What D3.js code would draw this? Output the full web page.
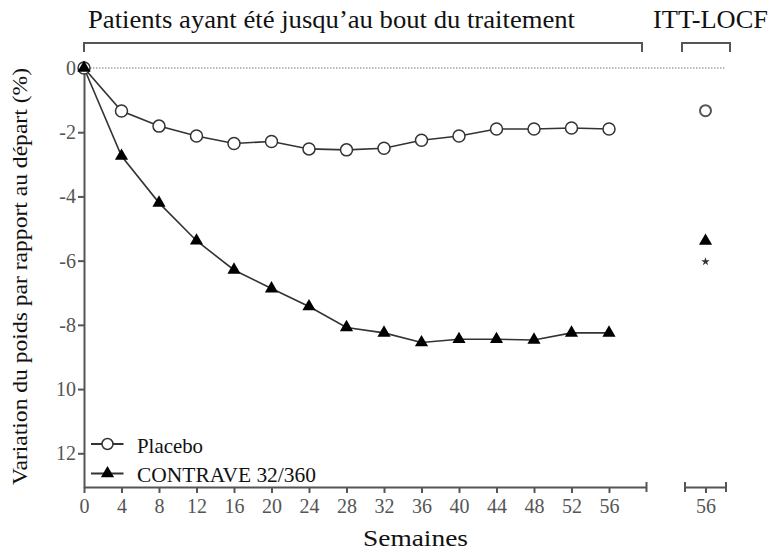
<!DOCTYPE html>
<html>
<head>
<meta charset="utf-8">
<script src="https://cdn.jsdelivr.net/npm/d3@7"></script>
<style>
  body { margin: 0; background: #fff; }
</style>
</head>
<body>
<div class="chart"></div>
<script>
// data
var weeks = [0, 4, 8, 12, 16, 20, 24, 28, 32, 36, 40, 44, 48, 52, 56];
var placebo = [0, -1.34, -1.81, -2.12, -2.35, -2.29, -2.52, -2.55, -2.50, -2.25, -2.12, -1.90, -1.90, -1.87, -1.90];
var contrave = [0, -2.74, -4.20, -5.38, -6.29, -6.87, -7.43, -8.08, -8.25, -8.55, -8.45, -8.45, -8.47, -8.25, -8.25];
var ittPlacebo = -1.33;
var ittContrave = -5.39;
var ittStar = -6.03;
var yTicks = [0, -2, -4, -6, -8, -10, -12];
var yTickLabels = ["0", "-2", "-4", "-6", "-8", "10", "12"];
var xTicks = [0, 4, 8, 12, 16, 20, 24, 28, 32, 36, 40, 44, 48, 52, 56];
var ittWeek = 56;

var svgWidth = 777, svgHeight = 554;
var ink = "#333";
var axisCol = "#555";
var serif = "'Liberation Serif', 'Times New Roman', serif";

var svg = d3.select(".chart").append("svg")
  .attr("width", svgWidth)
  .attr("height", svgHeight);

// scales
var x = d3.scaleLinear().domain([0, 60]).range([84, 646.5]);
var xItt = d3.scaleLinear().domain([54, 58]).range([685, 726]);
var y = d3.scaleLinear().domain([0, -13.05]).range([68, 487]);

// dotted zero line
svg.append("line")
  .attr("x1", x(0)).attr("x2", xItt(58))
  .attr("y1", y(0)).attr("y2", y(0))
  .attr("stroke", "#777").attr("stroke-width", 1.2)
  .attr("stroke-dasharray", "1.5,1.5");

// y axis
var yAxis = d3.axisLeft(y).tickValues(yTicks)
  .tickFormat(function(d, i) { return yTickLabels[i]; })
  .tickSize(6).tickSizeOuter(0);
var gy = svg.append("g").attr("transform", "translate(" + x(0) + ",0)").call(yAxis);

// x axis
var xAxis = d3.axisBottom(x).tickValues(xTicks).tickFormat(d3.format("d"))
  .tickSize(6).tickSizeOuter(0);
var gx = svg.append("g").attr("transform", "translate(0," + y(-13.05) + ")").call(xAxis);

// ITT axis
var xAxis2 = d3.axisBottom(xItt).tickValues([ittWeek]).tickFormat(d3.format("d"))
  .tickSize(6).tickSizeOuter(0);
var gx2 = svg.append("g").attr("transform", "translate(0," + y(-13.05) + ")").call(xAxis2);

[gx, gy, gx2].forEach(function(g) {
  g.attr("font-family", null);
  g.select(".domain").attr("stroke", axisCol).attr("stroke-width", 2);
  g.selectAll(".tick line").attr("stroke", axisCol).attr("stroke-width", 2);
  g.selectAll(".tick text")
    .attr("fill", "#555")
    .style("font-family", serif)
    .style("font-size", "20px");
});
gx.selectAll(".tick text").attr("y", 10).attr("dy", "0.78em");
gx2.selectAll(".tick text").attr("y", 10).attr("dy", "0.78em");
gy.selectAll(".tick text").attr("x", -8);

// end caps on the x axes (ticks up and down)
[x(60), xItt(54), xItt(58)].forEach(function(px) {
  svg.append("line")
    .attr("x1", px).attr("x2", px)
    .attr("y1", y(-13.05) - 5).attr("y2", y(-13.05) + 5)
    .attr("stroke", axisCol).attr("stroke-width", 2);
});

// top brackets
function bracket(x1, x2) {
  var yb = 43;
  svg.append("path")
    .attr("d", "M" + x1 + "," + (yb + 9) + "V" + yb + "H" + x2 + "V" + (yb + 9))
    .attr("fill", "none").attr("stroke", "#555").attr("stroke-width", 2);
}
bracket(x(0), 642);
bracket(682, 730);

function label(tx, ty, size, len, str) {
  return svg.append("text")
    .attr("x", tx).attr("y", ty)
    .style("font-family", serif)
    .style("font-size", size + "px")
    .attr("fill", "#111")
    .attr("textLength", len)
    .attr("lengthAdjust", "spacingAndGlyphs")
    .text(str);
}

label(88, 27.5, 24.5, 487, "Patients ayant été jusqu’au bout du traitement");
label(653, 27.5, 24.5, 115, "ITT-LOCF");

// axis titles
label(363, 546, 23, 105, "Semaines");

label(0, 0, 20.5, 417, "Variation du poids par rapport au départ (%)")
  .attr("transform", "translate(27,276.5) rotate(-90)")
  .attr("text-anchor", "middle");

// lines
var line = d3.line()
  .x(function(d) { return x(d[0]); })
  .y(function(d) { return y(d[1]); });

var placeboPts = weeks.map(function(w, i) { return [w, placebo[i]]; });
var contravePts = weeks.map(function(w, i) { return [w, contrave[i]]; });

svg.append("path").datum(contravePts).attr("d", line)
  .attr("fill", "none").attr("stroke", ink).attr("stroke-width", 1.6);
svg.append("path").datum(placeboPts).attr("d", line)
  .attr("fill", "none").attr("stroke", ink).attr("stroke-width", 1.6);

var tri = d3.symbol().type(d3.symbolTriangle).size(75);

svg.selectAll(".circ").data(placeboPts).enter()
  .append("circle").attr("class", "circ")
  .attr("cx", function(d) { return x(d[0]); })
  .attr("cy", function(d) { return y(d[1]); })
  .attr("r", 6)
  .attr("fill", "#fff").attr("stroke", ink).attr("stroke-width", 1.5);

svg.selectAll(".tri").data(contravePts).enter()
  .append("path").attr("class", "tri")
  .attr("d", tri)
  .attr("transform", function(d) { return "translate(" + x(d[0]) + "," + y(d[1]) + ")"; })
  .attr("fill", "#000");

// ITT-LOCF points
svg.append("circle")
  .attr("cx", xItt(ittWeek)).attr("cy", y(ittPlacebo)).attr("r", 5.5)
  .attr("fill", "#fff").attr("stroke", "#555").attr("stroke-width", 2);
svg.append("path")
  .attr("d", tri)
  .attr("transform", "translate(" + xItt(ittWeek) + "," + y(ittContrave) + ")")
  .attr("fill", "#000");
svg.append("path")
  .attr("d", d3.symbol().type(d3.symbolStar).size(22))
  .attr("transform", "translate(" + xItt(ittWeek) + "," + y(ittStar) + ")")
  .attr("fill", "#333");

// legend
var legendItems = [
  { label: "Placebo", y: 444, kind: "circle", len: 66 },
  { label: "CONTRAVE 32/360", y: 473.5, kind: "tri", len: 179 }
];
legendItems.forEach(function(it) {
  svg.append("line")
    .attr("x1", 91).attr("x2", 123.5).attr("y1", it.y).attr("y2", it.y)
    .attr("stroke", ink).attr("stroke-width", 2);
  if (it.kind === "circle") {
    svg.append("circle").attr("cx", 107.5).attr("cy", it.y).attr("r", 5.5)
      .attr("fill", "#fff").attr("stroke", ink).attr("stroke-width", 1.5);
  } else {
    svg.append("path").attr("d", tri)
      .attr("transform", "translate(107.5," + it.y + ")").attr("fill", "#000");
  }
  label(137, it.y + 8.5, 21, it.len, it.label);
});
</script>
</body>
</html>
